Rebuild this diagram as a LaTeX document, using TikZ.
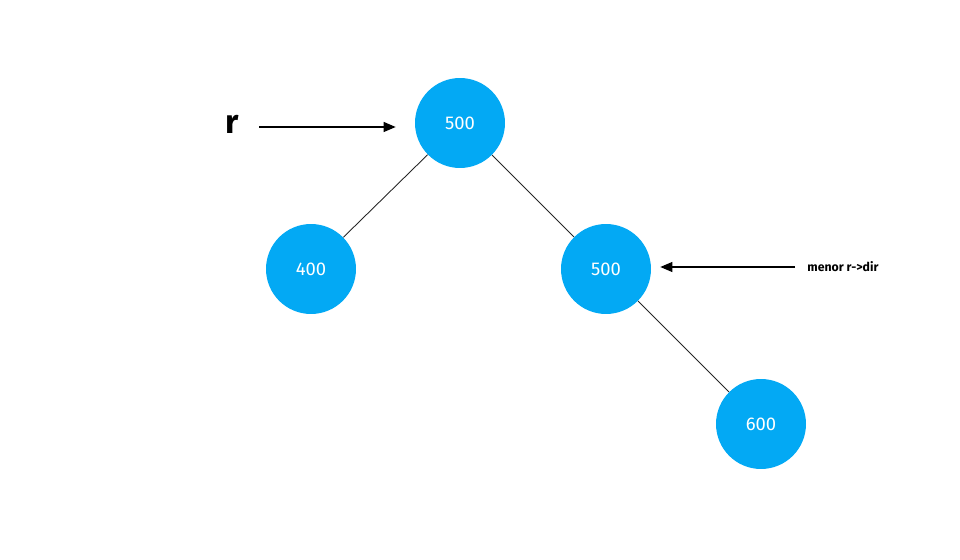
\documentclass[tikz,border=0pt]{standalone}
\usepackage{fontspec}
\setmainfont{Fira Sans}
\usetikzlibrary{arrows.meta}
\definecolor{nodeblue}{HTML}{03A9F4}

\tikzset{
  treenode/.style={circle,fill=nodeblue,draw=none,minimum size=1.8cm,inner sep=0pt,
    text=white,font=\fontsize{10.5}{12}\selectfont},
  pointer/.style={-{Triangle[length=2.4mm,width=2mm]},line width=0.6pt},
  edge/.style={line width=0.5pt,draw=black!85}
}

\begin{document}
\begin{tikzpicture}[x=0.02cm,y=-0.02cm]
  \useasboundingbox (0,0) rectangle (960,560);
  % tree
  \node[treenode] (root) at (460,123) {500};
  \node[treenode] (left) at (311,269) {400};
  \node[treenode] (right) at (606,269) {500};
  \node[treenode] (rr) at (761,424) {600};
  \draw[edge] (root) -- (left);
  \draw[edge] (root) -- (right);
  \draw[edge] (right) -- (rr);
  % labels
  \node[inner sep=0pt,font=\fontsize{19}{24}\selectfont\bfseries] (rlab) at (232,124) {r};
  \node[inner sep=0pt,anchor=west,font=\fontsize{7}{8}\selectfont\bfseries] (menor) at (807,267) {menor r->dir};
  \draw[pointer,shorten <=0.4cm,shorten >=0.38cm] ([yshift=-0.06cm]rlab.east) -- ([yshift=-0.06cm]rlab.east -| root.west);
  \draw[pointer,shorten <=0.24cm,shorten >=0.18cm] (menor.west) -- (menor.west -| right.east);
\end{tikzpicture}
\end{document}
